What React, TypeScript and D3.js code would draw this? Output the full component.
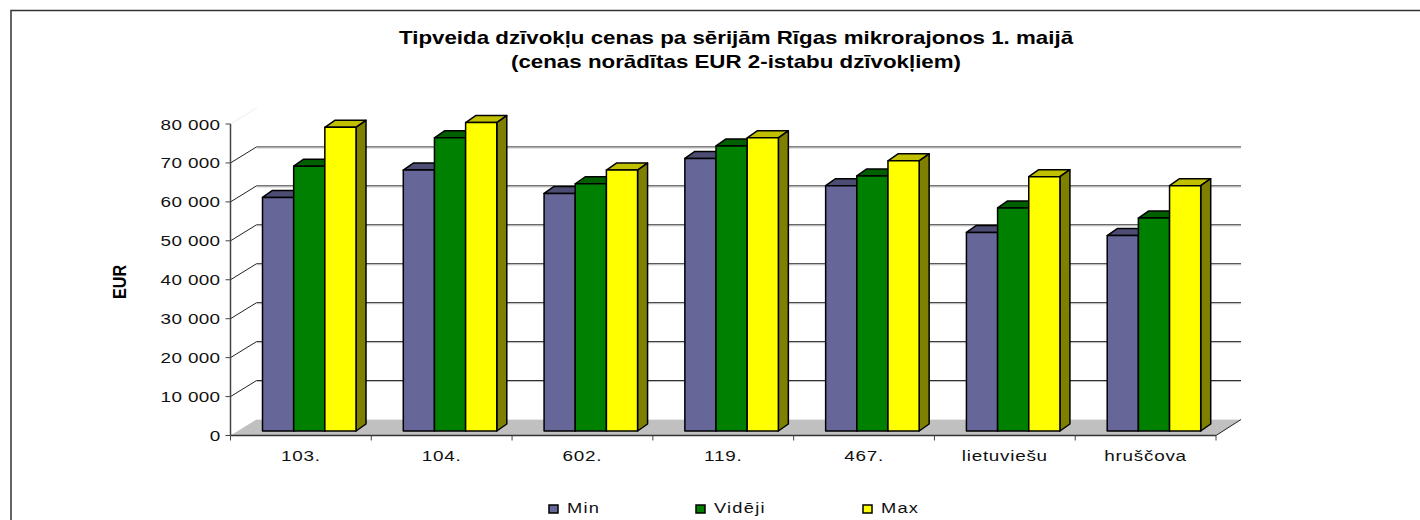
import React from 'react';
import * as d3 from 'd3';

const categories = ['103.', '104.', '602.', '119.', '467.', 'lietuviešu', 'hruščova'];
const minValues = [60000, 67000, 61000, 70000, 63000, 51000, 50200];
const avgValues = [68000, 75300, 63500, 73200, 65500, 57300, 54700];
const maxValues = [78000, 79200, 67000, 75300, 69400, 65300, 63000];
const seriesNames = ['Min', 'Vidēji', 'Max'];
const yTicks = [0, 10000, 20000, 30000, 40000, 50000, 60000, 70000, 80000];

const colors = [
  { front: '#666699', top: '#4d4d73', side: '#4d4d73' },
  { front: '#008000', top: '#006000', side: '#006000' },
  { front: '#ffff00', top: '#c0c000', side: '#808000' },
];

const FONT = '"Liberation Sans", Arial, sans-serif';
const depthX = 26;
const depthY = 16;
const barDepthX = 10;
const barDepthY = 7;
const barLift = 4.5;
const stretch = 1.22; // the original text is wider than it is tall

const x = d3.scaleBand().domain(categories).range([230.5, 1216]);
const y = d3.scaleLinear().domain([0, 80000]).range([435.5, 124]);
const inner = d3.scaleBand().domain(seriesNames).range([32, 125.5]);
const formatTick = (v: number) => d3.format(',')(v).replace(',', ' ');

export default function App() {
  const series = [minValues, avgValues, maxValues];
  const y0 = y(0);
  const xl = 230.5;
  const xr = 1216;

  return (
    <svg width={1420} height={520} style={{ position: 'fixed', left: 0, top: 0, background: '#fff' }} fontFamily={FONT}>
      <path d="M11 520V10.5H1420" fill="none" stroke="#333" strokeWidth={1.5} />

      <text transform="translate(736,43.5) scale(1.24,1)" textAnchor="middle" fontSize={18} fontWeight="bold">
        Tipveida dzīvokļu cenas pa sērijām Rīgas mikrorajonos 1. maijā
      </text>
      <text transform="translate(736,68) scale(1.24,1)" textAnchor="middle" fontSize={18} fontWeight="bold">
        (cenas norādītas EUR 2-istabu dzīvokļiem)
      </text>

      {/* floor */}
      <polygon
        points={`${xl},${y0} ${xl + depthX},${y0 - depthY} ${xr + depthX - 1},${y0 - depthY} ${xr},${y0}`}
        fill="#c0c0c0"
      />
      <line x1={xl + depthX} x2={xr + depthX - 1} y1={y0 - depthY} y2={y0 - depthY} stroke="#e8e8e8" />
      <line x1={xr} x2={xr + depthX - 1} y1={y0} y2={y0 - depthY} stroke="#222" />

      {/* gridlines and the diagonals to the axis */}
      {yTicks.slice(1).map(t => {
        const top = t === 80000;
        return (
          <g key={t} stroke={top ? '#ddd' : '#222'} strokeDasharray={top ? '1 1' : undefined}>
            <line x1={xl} x2={xl + depthX} y1={y(t)} y2={y(t) - depthY} />
            {!top && <line x1={xl + depthX} x2={xr + depthX - 1} y1={y(t) - depthY} y2={y(t) - depthY} />}
            {!top && (
              <line
                x1={xl + depthX}
                x2={xr + depthX - 1}
                y1={y(t) - depthY + 1}
                y2={y(t) - depthY + 1}
                stroke="#bbb"
              />
            )}
          </g>
        );
      })}

      {/* y axis */}
      <line x1={xl} x2={xl} y1={y(80000)} y2={y0} stroke="#444" strokeWidth={1.5} />
      {yTicks.map(t => (
        <g key={t}>
          <line x1={xl - 5} x2={xl} y1={y(t)} y2={y(t)} stroke="#444" />
          <text
            transform={`translate(${xl - 10},${y(t) + 5.5}) scale(${stretch},1)`}
            textAnchor="end"
            fontSize={15.5}
            letterSpacing={0.3}
            fill="#111"
          >
            {formatTick(t)}
          </text>
        </g>
      ))}
      <text transform="translate(126,282) rotate(-90) scale(0.9,1)" textAnchor="middle" fontSize={18} fontWeight="bold">
        EUR
      </text>

      {/* bars */}
      {categories.map((c, i) => (
        <g key={c}>
          {series.map((values, s) => {
            const name = seriesNames[s];
            const bx = (x(c) as number) + (inner(name) as number);
            const bw = inner.bandwidth();
            const by = y(values[i]) - barLift;
            const base = y0 - barLift;
            const col = colors[s];
            return (
              <g key={name} stroke="#000" strokeWidth={1.5} strokeLinejoin="round">
                <polygon
                  points={`${bx},${by} ${bx + barDepthX},${by - barDepthY} ${bx + bw + barDepthX},${by - barDepthY} ${bx + bw},${by}`}
                  fill={col.top}
                />
                <polygon
                  points={`${bx + bw},${by} ${bx + bw + barDepthX},${by - barDepthY} ${bx + bw + barDepthX},${base - barDepthY} ${bx + bw},${base}`}
                  fill={col.side}
                />
                <rect x={bx} y={by} width={bw} height={base - by} fill={col.front} />
              </g>
            );
          })}
        </g>
      ))}

      {/* x axis */}
      <line x1={xl} x2={xr} y1={y0} y2={y0} stroke="#333" strokeWidth={1.5} />
      {[...categories.map(c => x(c) as number), xr].map(px => (
        <line key={px} x1={px} x2={px} y1={y0} y2={y0 + 5} stroke="#444" />
      ))}
      {categories.map(c => (
        <text
          key={c}
          transform={`translate(${(x(c) as number) + x.bandwidth() / 2},${461}) scale(${stretch},1)`}
          textAnchor="middle"
          fontSize={15.5}
          letterSpacing={0.6}
          fill="#111"
        >
          {c}
        </text>
      ))}

      {/* legend */}
      {seriesNames.map((name, s) => {
        const lx = [549, 696, 863][s];
        return (
          <g key={name}>
            <rect x={lx} y={505} width={9} height={8} fill={colors[s].front} stroke="#000" strokeWidth={1.5} />
            <text
              transform={`translate(${lx + 18},513) scale(${stretch},1)`}
              fontSize={15}
              letterSpacing={1}
              fill="#111"
            >
              {name}
            </text>
          </g>
        );
      })}
    </svg>
  );
}
